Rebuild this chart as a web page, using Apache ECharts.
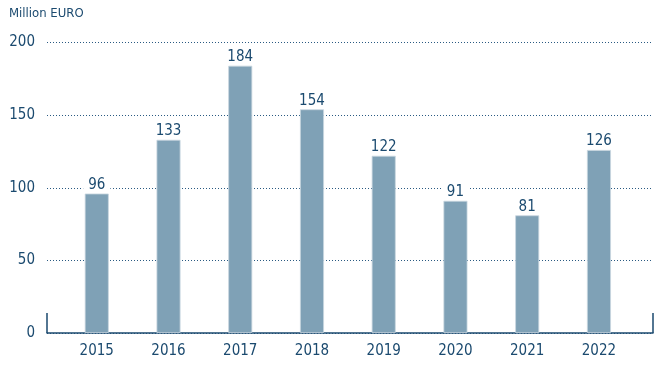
<!DOCTYPE html>
<html><head><meta charset="utf-8">
<script src="https://cdn.jsdelivr.net/npm/echarts@6/dist/echarts.min.js"></script>
<style>html,body{margin:0;padding:0;background:#fff}#c{width:667px;height:375px}</style>
</head><body><div id="c"></div>
<script>
const categories = ['2015','2016','2017','2018','2019','2020','2021','2022'];
const values = [96, 133, 184, 154, 122, 91, 81, 126];
const yTicks = [0, 50, 100, 150, 200];
const unitTitle = 'Million EURO';

const navy = '#1b4a6f';
const font = '"DejaVu Sans Condensed", "Roboto", sans-serif';
const yMin = yTicks[0], yMax = yTicks[yTicks.length - 1], yStep = yTicks[1] - yTicks[0];
const chart = echarts.init(document.getElementById('c'));
chart.setOption({
  animation: false,
  textStyle: {fontFamily: font},
  title: {text: unitTitle, left: 9, top: 7, padding: 0,
    textStyle: {fontSize: 13, fontWeight: 'normal', color: navy, fontFamily: font}},
  grid: [
    {left: 47, right: 14, top: 42.5, bottom: 42},
    {left: 60.9, right: 32.2, top: 42.5, bottom: 42}
  ],
  xAxis: [
    {type: 'value', gridIndex: 0, min: 0, max: 1, interval: 1,
      axisLine: {show: true, lineStyle: {color: navy, width: 1.5}},
      axisTick: {show: true, inside: true, length: 20, lineStyle: {color: navy, width: 1.5}},
      axisLabel: {show: false}, splitLine: {show: false}},
    {type: 'category', gridIndex: 1, data: categories,
      axisLine: {show: false}, axisTick: {show: false},
      axisLabel: {color: navy, fontSize: 15, margin: 11, fontFamily: font}}
  ],
  yAxis: [
    {type: 'value', gridIndex: 0, min: yMin, max: yMax, interval: yStep,
      axisLine: {show: false}, axisTick: {show: false},
      axisLabel: {color: navy, fontSize: 15, margin: 12, fontFamily: font},
      splitLine: {lineStyle: {color: '#2a5a82', type: [1, 2], width: 1}}},
    {type: 'value', gridIndex: 1, min: yMin, max: yMax, interval: yStep, show: false}
  ],
  series: [{
    type: 'bar', data: values, barWidth: 24, xAxisIndex: 1, yAxisIndex: 1,
    itemStyle: {color: '#7fa1b6', borderColor: '#c9d7e0', borderWidth: 0.8},
    label: {show: true, position: 'top', distance: 1, color: navy, fontSize: 15, fontFamily: font,
      backgroundColor: '#fff', padding: [0, 5, 0, 5]}
  }]
});
</script></body></html>
